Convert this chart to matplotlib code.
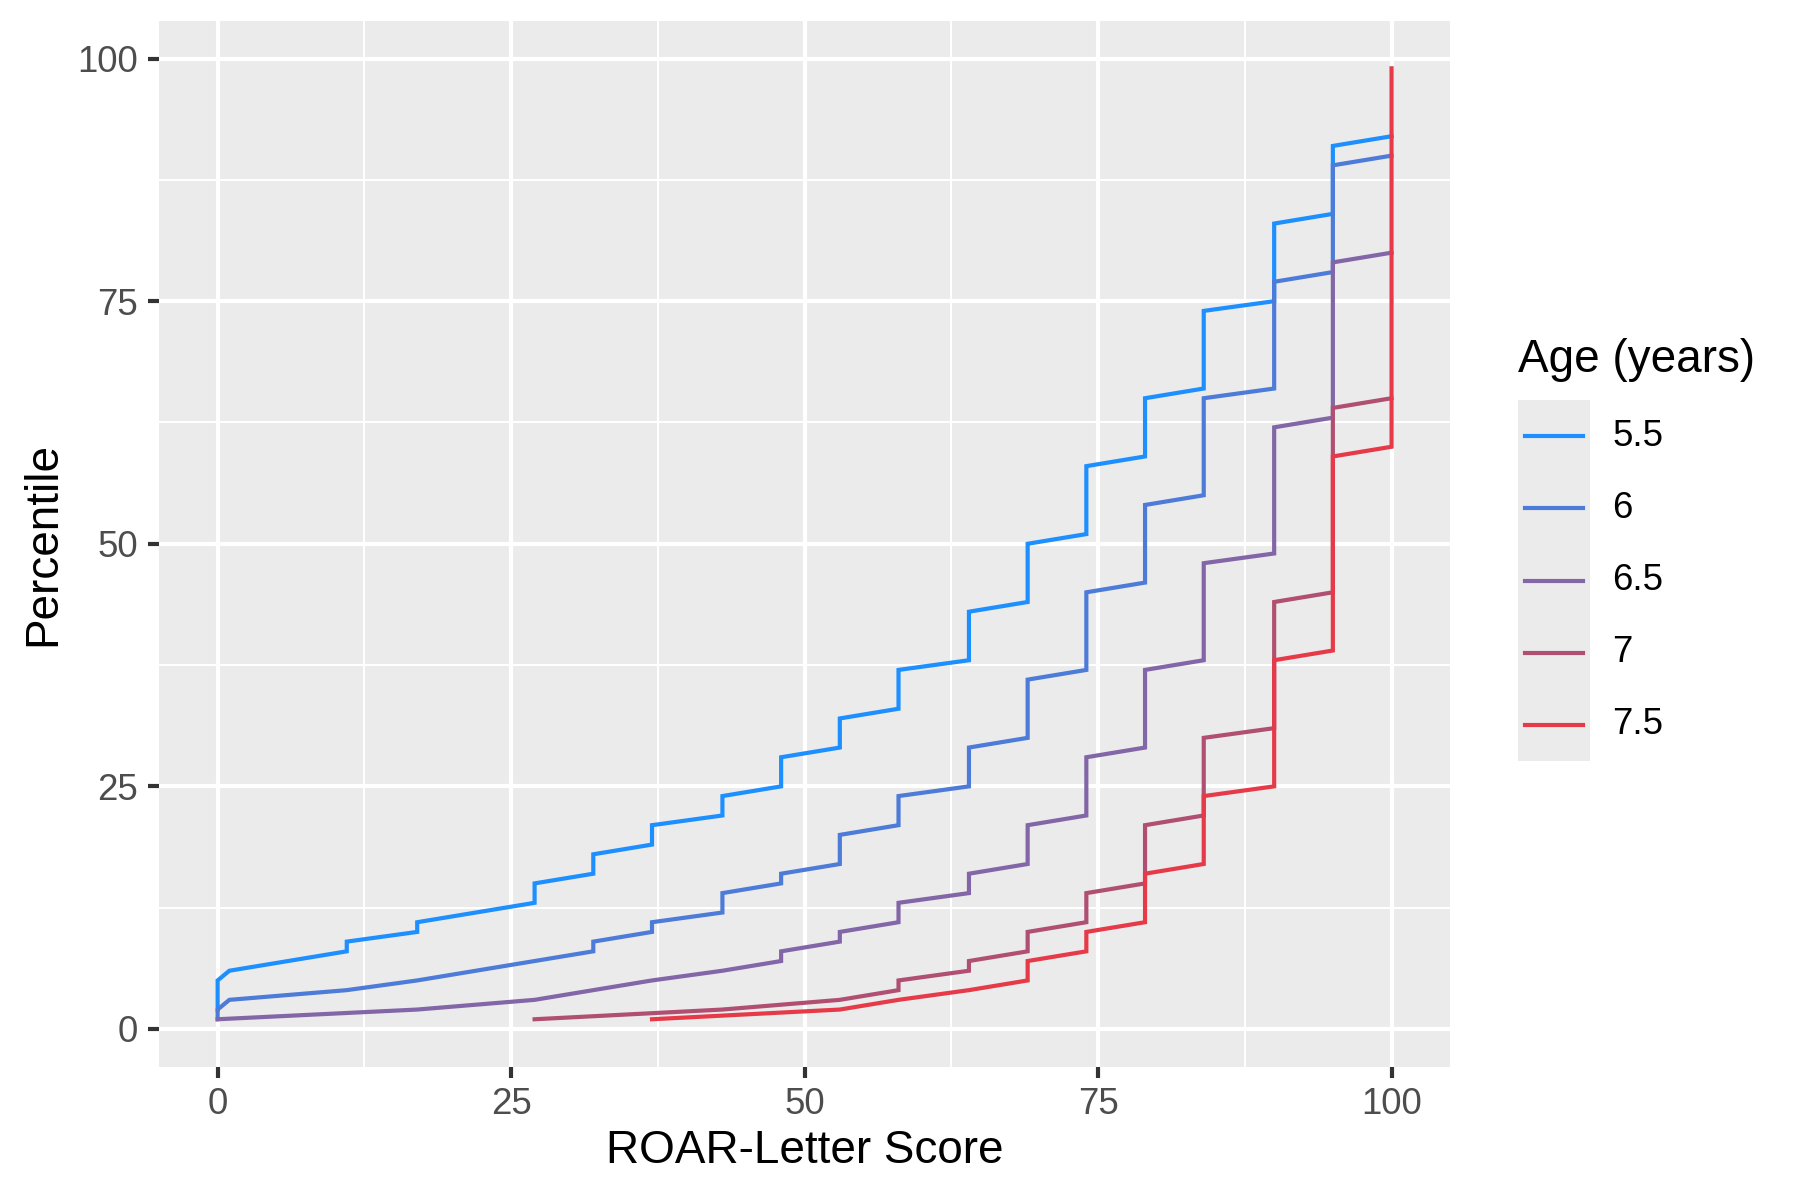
import matplotlib.pyplot as plt
from matplotlib.ticker import MultipleLocator

plt.rcParams['font.family'] = ['Liberation Sans', 'DejaVu Sans']

# ROAR-Letter score -> percentile, one step path per age group
ages = ['5.5', '6', '6.5', '7', '7.5']
colors = ['#1E8FFF', '#4D7BD8', '#8266A7', '#B14F72', '#E63A48']

score_55 = [0, 0, 1, 11, 11, 17, 17, 27, 27, 32, 32, 37, 37, 43, 43, 48, 48, 53, 53,
            58, 58, 64, 64, 69, 69, 74, 74, 79, 79, 84, 84, 90, 90, 95, 95, 100]
pct_55 = [2, 5, 6, 8, 9, 10, 11, 13, 15, 16, 18, 19, 21, 22, 24, 25, 28, 29, 32,
          33, 37, 38, 43, 44, 50, 51, 58, 59, 65, 66, 74, 75, 83, 84, 91, 92]

score_6 = [0, 0, 1, 11, 17, 27, 32, 32, 37, 37, 43, 43, 48, 48, 53, 53, 58, 58,
           64, 64, 69, 69, 74, 74, 79, 79, 84, 84, 90, 90, 95, 95, 100]
pct_6 = [1, 2, 3, 4, 5, 7, 8, 9, 10, 11, 12, 14, 15, 16, 17, 20, 21, 24,
         25, 29, 30, 36, 37, 45, 46, 54, 55, 65, 66, 77, 78, 89, 90]

score_65 = [0, 17, 27, 37, 43, 48, 48, 53, 53, 58, 58, 64, 64, 69, 69, 74, 74,
            79, 79, 84, 84, 90, 90, 95, 95, 100]
pct_65 = [1, 2, 3, 5, 6, 7, 8, 9, 10, 11, 13, 14, 16, 17, 21, 22, 28,
          29, 37, 38, 48, 49, 62, 63, 79, 80]

score_7 = [27, 43, 53, 58, 58, 64, 64, 69, 69, 74, 74, 79, 79, 84, 84, 90, 90, 95, 95, 100]
pct_7 = [1, 2, 3, 4, 5, 6, 7, 8, 10, 11, 14, 15, 21, 22, 30, 31, 44, 45, 64, 65]

score_75 = [37, 53, 58, 64, 69, 69, 74, 74, 79, 79, 84, 84, 90, 90, 95, 95, 100, 100]
pct_75 = [1, 2, 3, 4, 5, 7, 8, 10, 11, 16, 17, 24, 25, 38, 39, 59, 60, 99]

scores = [score_55, score_6, score_65, score_7, score_75]
pcts = [pct_55, pct_6, pct_65, pct_7, pct_75]

fig = plt.figure(figsize=(6, 4), dpi=300)
ax = fig.add_axes([0.0883, 0.111, 0.7174, 0.8717])
ax.set_facecolor('#EBEBEB')

for x, y, c in zip(scores, pcts, colors):
    ax.plot(x, y, color=c, linewidth=1.0, solid_joinstyle='miter', zorder=3)

ax.set_xlim(-5, 105)
ax.set_ylim(1 - 0.05 * 98, 99 + 0.05 * 98)
ax.xaxis.set_major_locator(MultipleLocator(25))
ax.yaxis.set_major_locator(MultipleLocator(25))
ax.xaxis.set_minor_locator(MultipleLocator(12.5))
ax.yaxis.set_minor_locator(MultipleLocator(12.5))
ax.grid(which='major', color='white', linewidth=1.0)
ax.grid(which='minor', color='white', linewidth=0.5)
ax.set_axisbelow(True)
for s in ax.spines.values():
    s.set_visible(False)
ax.tick_params(which='major', length=2.75, width=1.0, color='#333333',
               labelsize=8.8, labelcolor='#4D4D4D', pad=2.2)
ax.tick_params(which='minor', length=0)

ax.set_xlabel('ROAR-Letter Score', fontsize=11, labelpad=1.5)
ax.set_ylabel('Percentile', fontsize=11, labelpad=3)

# legend drawn by hand to get the grey key background
lx = 0.8434
fig.text(lx, 0.70, 'Age (years)', fontsize=11, ha='left', va='center')
lax = fig.add_axes([lx, 0.3658, 0.04, 0.3008])
lax.set_facecolor('#EBEBEB')
lax.set_xlim(0, 1)
lax.set_ylim(0, len(ages))
lax.set_xticks([])
lax.set_yticks([])
for s in lax.spines.values():
    s.set_visible(False)
for i, (age, c) in enumerate(zip(ages, colors)):
    yk = len(ages) - i - 0.5
    lax.plot([0.1, 0.9], [yk, yk], color=c, linewidth=1.0)
    fig.text(0.8956, 0.3658 + 0.3008 * yk / len(ages), age, fontsize=8.8,
             ha='left', va='center')

fig.savefig('out.png', dpi=300)
